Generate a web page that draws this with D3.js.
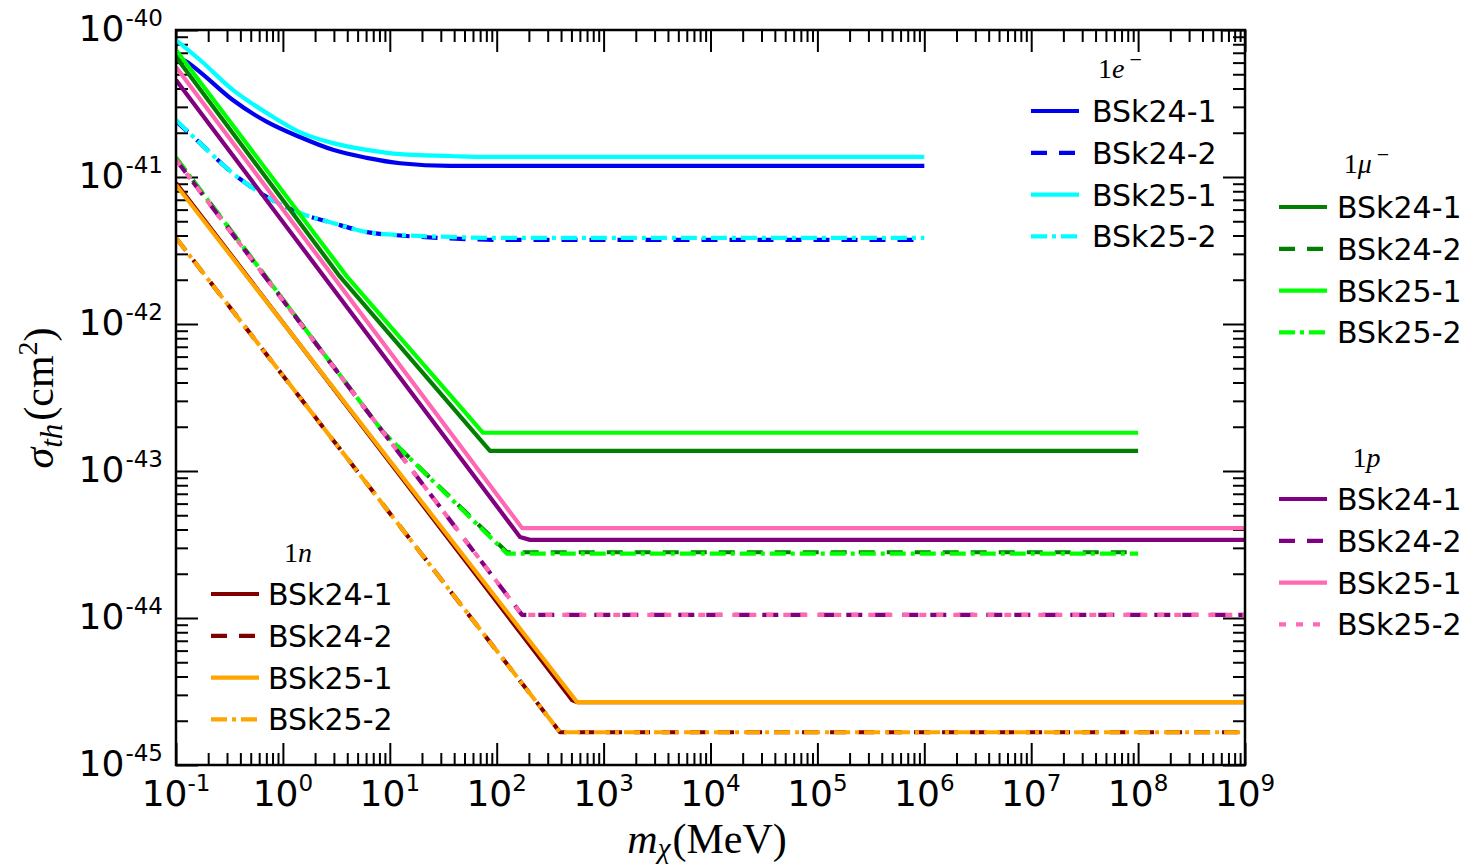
<!DOCTYPE html>
<html>
<head>
<meta charset="utf-8">
<script src="https://cdn.jsdelivr.net/npm/d3@7"></script>
<style>
  body { margin: 0; background: #fff; }
  svg { display: block; }
</style>
</head>
<body>
<svg id="chart" width="1471" height="867"></svg>
<script>
// ---- axis ranges and tick exponents ----
const massExponents = [-1, 0, 1, 2, 3, 4, 5, 6, 7, 8, 9];
const sigmaExponents = [-45, -44, -43, -42, -41, -40];
const seriesNames = ["BSk24-1", "BSk24-2", "BSk25-1", "BSk25-2"];

// ---- threshold cross sections: [m_chi (MeV), sigma_th (cm^2)] ----
// 1e-
const e_BSk24_1 = [[0.1, 6.65e-41], [0.127, 6.05e-41], [0.168, 5.17e-41], [0.34, 3.34e-41], [0.71, 2.37e-41],
  [1.44, 1.87e-41], [2.94, 1.53e-41], [6.1, 1.35e-41], [12.5, 1.24e-41], [36.6, 1.19e-41], [1e6, 1.19e-41]];
const e_BSk24_2 = [[0.1, 2.40e-41], [0.168, 1.70e-41], [0.34, 1.06e-41], [0.71, 7.31e-42], [1.44, 5.69e-42],
  [2.94, 4.86e-42], [6.1, 4.22e-42], [12.5, 4.0e-42], [36.6, 3.82e-42], [100, 3.74e-42], [1e6, 3.73e-42]];
const e_BSk25_1 = [[0.1, 8.55e-41], [0.168, 6.25e-41], [0.34, 3.91e-41], [0.71, 2.72e-41], [1.44, 2.02e-41],
  [2.94, 1.70e-41], [6.1, 1.53e-41], [12.5, 1.43e-41], [36.6, 1.39e-41], [80, 1.37e-41], [1e6, 1.37e-41]];
const e_BSk25_2 = [[0.1, 2.44e-41], [0.168, 1.70e-41], [0.34, 1.06e-41], [0.71, 7.31e-42], [1.44, 5.69e-42],
  [2.94, 4.86e-42], [6.1, 4.22e-42], [12.5, 4.03e-42], [36.6, 3.91e-42], [100, 3.85e-42], [1e6, 3.85e-42]];
// 1mu-
const mu_BSk24_1 = [[0.1, 6.55e-41], [3.42, 2.1e-42], [86.5, 1.37e-43], [1e8, 1.37e-43]];
const mu_BSk24_2 = [[0.1, 1.35e-41], [8.64, 1.84e-43], [125, 2.80e-44], [1e8, 2.80e-44]];
const mu_BSk25_1 = [[0.1, 7.31e-41], [3.98, 2.1e-42], [74.5, 1.82e-43], [1e8, 1.82e-43]];
const mu_BSk25_2 = [[0.1, 1.35e-41], [8.64, 1.84e-43], [125, 2.74e-44], [1e8, 2.74e-44]];
// 1p
const p_BSk24_1 = [[0.1, 4.57e-41], [165, 3.56e-44], [205, 3.40e-44], [1e9, 3.40e-44]];
const p_BSk24_2 = [[0.1, 1.31e-41], [172.6, 1.05e-44], [1e9, 1.05e-44]];
const p_BSk25_1 = [[0.1, 5.60e-41], [172.6, 4.09e-44], [1e9, 4.09e-44]];
const p_BSk25_2 = [[0.1, 1.31e-41], [172.6, 1.05e-44], [1e9, 1.05e-44]];
// 1n
const n_BSk24_1 = [[0.1, 9.1e-42], [506, 2.77e-45], [564, 2.68e-45], [1e9, 2.68e-45]];
const n_BSk24_2 = [[0.1, 3.85e-42], [391, 1.67e-45], [1e9, 1.67e-45]];
const n_BSk25_1 = [[0.1, 8.83e-42], [564, 2.68e-45], [1e9, 2.68e-45]];
const n_BSk25_2 = [[0.1, 3.85e-42], [391, 1.67e-45], [1e9, 1.67e-45]];

// ---- line styles ----
const DASH = "16,12";
const DASHDOT = "16,5,4,5";
const DOTTED = "7,10";

const groups = [
  { key: "e", smooth: true, title: [["1", false], ["e", true], ["\u2212", false, "sup"]],
    colors: ["#0000f0", "#0000f0", "#00ffff", "#00ffff"], dashes: [null, DASH, null, DASHDOT],
    data: [e_BSk24_1, e_BSk24_2, e_BSk25_1, e_BSk25_2],
    legend: { lineX: 1031, textX: 1092, row0: 111, titleY: 78 } },
  { key: "mu", title: [["1", false], ["\u03bc", true], ["\u2212", false, "sup"]],
    colors: ["#007f00", "#007f00", "#00ff00", "#00ff00"], dashes: [null, DASH, null, DASHDOT],
    data: [mu_BSk24_1, mu_BSk24_2, mu_BSk25_1, mu_BSk25_2],
    legend: { lineX: 1279, textX: 1337, row0: 207, titleY: 173 } },
  { key: "n", title: [["1", false], ["n", true]],
    colors: ["#800000", "#800000", "#ffa500", "#ffa500"], dashes: [null, DASH, null, DASHDOT],
    data: [n_BSk24_1, n_BSk24_2, n_BSk25_1, n_BSk25_2],
    legend: { lineX: 211, textX: 268, row0: 594, titleY: 562 } },
  { key: "p", title: [["1", false], ["p", true]],
    colors: ["#800080", "#800080", "#ff69b4", "#ff69b4"], dashes: [null, DASH, null, DOTTED],
    data: [p_BSk24_1, p_BSk24_2, p_BSk25_1, p_BSk25_2],
    legend: { lineX: 1279, textX: 1337, row0: 499, titleY: 467 } }
];

// ---- layout ----
const plot = { x0: 176, x1: 1245, y0: 30, y1: 765 };
const x = d3.scaleLog().domain([1e-1, 1e9]).range([plot.x0, plot.x1]);
const y = d3.scaleLog().domain([1e-45, 1e-40]).range([plot.y1, plot.y0]);
const svg = d3.select("#chart");
svg.append("rect").attr("width", 1471).attr("height", 867).attr("fill", "#fff");

svg.append("defs").append("clipPath").attr("id", "plotClip")
  .append("rect").attr("x", plot.x0).attr("y", plot.y0)
  .attr("width", plot.x1 - plot.x0).attr("height", plot.y1 - plot.y0);

// ---- tick values (major decades + minor 2..9) ----
function minors(exps) {
  const out = [];
  exps.slice(0, -1).forEach(e => { for (let k = 2; k < 10; k++) out.push(k * Math.pow(10, e)); });
  return out;
}
const xMajor = massExponents.map(e => Math.pow(10, e));
const yMajor = sigmaExponents.map(e => Math.pow(10, e));
const xMinor = minors(massExponents);
const yMinor = minors(sigmaExponents);

function ticks(axis, values, size, tx, ty) {
  svg.append("g").attr("transform", `translate(${tx},${ty})`)
    .call(axis.tickValues(values).tickSize(size).tickSizeOuter(0).tickFormat(""))
    .call(g => g.select(".domain").remove())
    .call(g => g.selectAll("text").remove())
    .selectAll("line").attr("stroke", "#000").attr("stroke-width", 2);
}
[[xMajor, -22], [xMinor, -12]].forEach(([v, s]) => {
  ticks(d3.axisBottom(x), v, s, 0, plot.y1);
  ticks(d3.axisTop(x), v, s, 0, plot.y0);
});
[[yMajor, -22], [yMinor, -12]].forEach(([v, s]) => {
  ticks(d3.axisLeft(y), v, s, plot.x0, 0);
  ticks(d3.axisRight(y), v, s, plot.x1, 0);
});

// ---- curves ----
const straight = d3.line().x(d => x(d[0])).y(d => y(d[1]));
const smooth = d3.line().x(d => x(d[0])).y(d => y(d[1])).curve(d3.curveMonotoneX);
const curves = svg.append("g").attr("clip-path", "url(#plotClip)");
groups.forEach(g => {
  g.data.forEach((series, i) => {
    curves.append("path").datum(series)
      .attr("d", g.smooth ? smooth : straight)
      .attr("fill", "none")
      .attr("stroke", g.colors[i])
      .attr("stroke-width", 4.2)
      .attr("stroke-linejoin", "round")
      .attr("stroke-dasharray", g.dashes[i]);
  });
});

// ---- frame ----
svg.append("rect").attr("x", plot.x0).attr("y", plot.y0)
  .attr("width", plot.x1 - plot.x0).attr("height", plot.y1 - plot.y0)
  .attr("fill", "none").attr("stroke", "#000").attr("stroke-width", 2.5);

// ---- tick labels ----
const tickFont = "DejaVu Sans, sans-serif";
massExponents.forEach(e => {
  const t = svg.append("text").attr("x", x(Math.pow(10, e))).attr("y", plot.y1 + 41)
    .attr("text-anchor", "middle").attr("font-family", tickFont).attr("font-size", 36);
  t.append("tspan").text("10");
  t.append("tspan").attr("dy", -15).attr("font-size", 23).text(String(e));
});
sigmaExponents.forEach(e => {
  const t = svg.append("text").attr("x", 163).attr("y", y(Math.pow(10, e)) + 11)
    .attr("text-anchor", "end").attr("font-family", tickFont).attr("font-size", 36);
  t.append("tspan").text("10");
  t.append("tspan").attr("dy", -15).attr("dx", 1).attr("font-size", 23).text(String(e));
});

// ---- axis titles ----
const mathFont = "Liberation Serif, DejaVu Serif, serif";
const xt = svg.append("text").attr("x", 707).attr("y", 853).attr("text-anchor", "middle")
  .attr("font-family", mathFont).attr("font-size", 42);
xt.append("tspan").attr("font-style", "italic").text("m");
xt.append("tspan").attr("font-style", "italic").attr("font-size", 29).attr("dy", 5).text("\u03c7");
xt.append("tspan").attr("dy", -5).attr("dx", 2).text("(MeV)");

const yt = svg.append("text").attr("transform", "translate(53,398) rotate(-90)")
  .attr("text-anchor", "middle").attr("font-family", mathFont).attr("font-size", 42);
yt.append("tspan").attr("font-style", "italic").text("\u03c3");
yt.append("tspan").attr("font-style", "italic").attr("font-size", 31).attr("dy", 9).text("th");
yt.append("tspan").attr("dy", -9).attr("dx", 3).text("(cm");
yt.append("tspan").attr("font-size", 28).attr("dy", -16).text("2");
yt.append("tspan").attr("dy", 16).text(")");

// ---- legends ----
const rowStep = 41.8;
groups.forEach(g => {
  const L = g.legend;
  const lg = svg.append("g");
  const centre = (L.lineX + L.textX + 125) / 2 - 4;
  const tt = lg.append("text").attr("x", centre).attr("y", L.titleY).attr("text-anchor", "middle")
    .attr("font-family", mathFont).attr("font-size", 28);
  g.title.forEach(([s, it, sup]) => {
    const ts = tt.append("tspan").text(s);
    if (it) ts.attr("font-style", "italic");
    if (sup) ts.attr("font-size", 22).attr("dy", -11).attr("dx", 5);
  });
  seriesNames.forEach((name, i) => {
    const cy = L.row0 + i * rowStep;
    lg.append("line").attr("x1", L.lineX).attr("x2", L.lineX + 48)
      .attr("y1", cy).attr("y2", cy)
      .attr("stroke", g.colors[i]).attr("stroke-width", 4.2)
      .attr("stroke-dasharray", g.dashes[i]);
    lg.append("text").attr("x", L.textX).attr("y", cy + 11)
      .attr("font-family", tickFont).attr("font-size", 30).text(name);
  });
});
</script>
</body>
</html>
